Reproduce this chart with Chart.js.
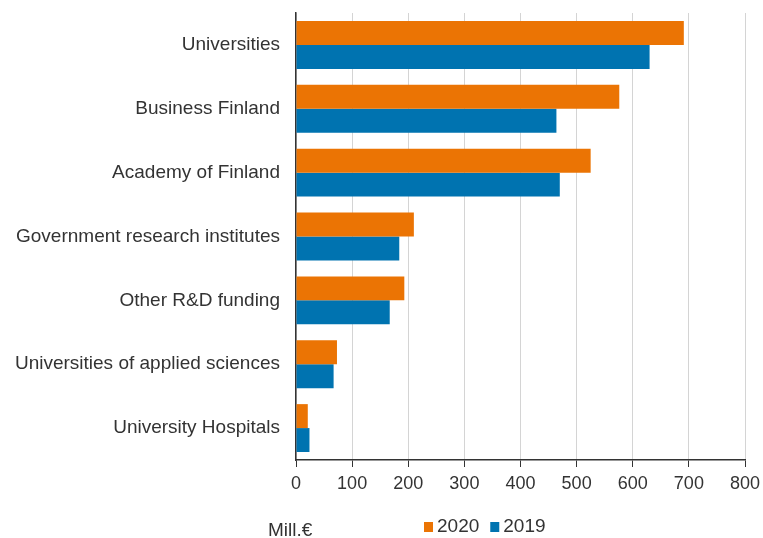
<!DOCTYPE html>
<html>
<head>
<meta charset="utf-8">
<script src="https://cdn.jsdelivr.net/npm/chart.js@4"></script>
<style>
html,body{margin:0;padding:0;background:#fff;}
#wrap{width:763px;height:538px;}
</style>
</head>
<body>
<div id="wrap"><canvas id="c" width="763" height="538"></canvas></div>
<script>
const categories = ["Universities","Business Finland","Academy of Finland","Government research institutes","Other R&D funding","Universities of applied sciences","University Hospitals"];
const values2020 = [691, 576, 525, 210, 193, 73, 21];
const values2019 = [630, 464, 470, 184, 167, 67, 24];
const seriesLabels = ["2020","2019"];
const unitLabel = "Mill.€";
const xTicks = [0,100,200,300,400,500,600,700,800];

const FONT = "'Liberation Sans', Arial, sans-serif";
const TEXT = "#333333";

const bottomLegend = {
  id: 'bottomLegend',
  afterDraw(chart) {
    const ctx = chart.ctx;
    ctx.save();
    ctx.font = "19px " + FONT;
    ctx.fillStyle = TEXT;
    ctx.textBaseline = 'middle';
    ctx.textAlign = 'left';
    ctx.fillText(unitLabel, 268, 531);
    let x = 424;
    chart.data.datasets.forEach(ds => {
      ctx.fillStyle = ds.backgroundColor;
      ctx.fillRect(x, 522, 9, 10);
      ctx.fillStyle = TEXT;
      ctx.fillText(ds.label, x + 13, 527);
      x += 13 + ctx.measureText(ds.label).width + 11;
    });
    ctx.restore();
  }
};

new Chart(document.getElementById('c'), {
  type: 'bar',
  data: {
    labels: categories,
    datasets: [
      { label: seriesLabels[0], data: values2020, backgroundColor: '#eb7404', categoryPercentage: 0.75, barPercentage: 1.0 },
      { label: seriesLabels[1], data: values2019, backgroundColor: '#0073b0', categoryPercentage: 0.75, barPercentage: 1.0 }
    ]
  },
  options: {
    indexAxis: 'y',
    responsive: false,
    animation: false,
    layout: { padding: { top: 13, right: 18, left: 0, bottom: 0 } },
    plugins: { legend: { display: false }, tooltip: { enabled: false } },
    scales: {
      x: {
        min: 0, max: 800,
        afterBuildTicks(scale) { scale.ticks = xTicks.map(v => ({ value: v })); },
        afterFit(scale) { scale.height = 78; scale.paddingLeft = 0; scale.paddingRight = 0; },
        grid: { color: '#d4d4d4', lineWidth: 1, tickLength: 7, tickColor: '#333333' },
        border: { color: '#333333', width: 1.5 },
        ticks: { font: { family: FONT, size: 18 }, color: TEXT, padding: 6, maxRotation: 0 }
      },
      y: {
        afterFit(scale) { scale.width = 296; scale.paddingTop = 0; scale.paddingBottom = 0; },
        grid: { display: false, drawTicks: false },
        border: { display: true, color: '#333333', width: 1.5 },
        ticks: { font: { family: FONT, size: 19 }, color: TEXT, padding: 16 }
      }
    }
  },
  plugins: [bottomLegend]
});
</script>
</body>
</html>
